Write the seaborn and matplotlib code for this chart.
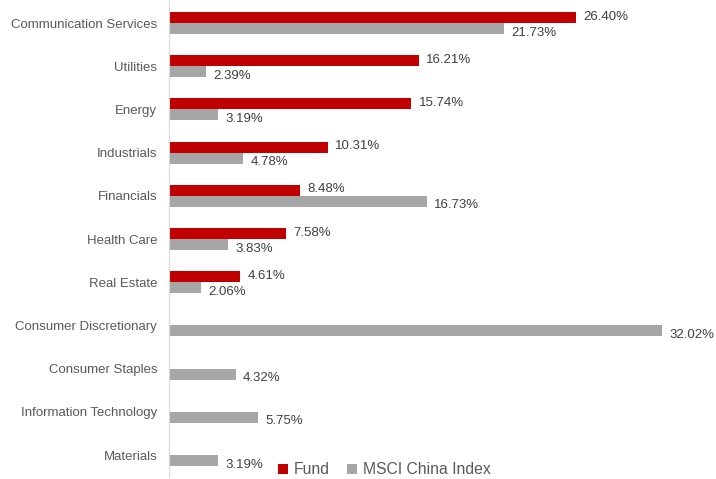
import seaborn as sns
import matplotlib.pyplot as plt
import pandas as pd

# sector weights
sectors = ['Communication Services', 'Utilities', 'Energy', 'Industrials', 'Financials',
           'Health Care', 'Real Estate', 'Consumer Discretionary', 'Consumer Staples',
           'Information Technology', 'Materials']
fund = [26.40, 16.21, 15.74, 10.31, 8.48, 7.58, 4.61, 0, 0, 0, 0]
msci = [21.73, 2.39, 3.19, 4.78, 16.73, 3.83, 2.06, 32.02, 4.32, 5.75, 3.19]
series_names = ['Fund', 'MSCI China Index']

df = pd.DataFrame({
    'sector': sectors * 2,
    'value': fund + msci,
    'series': [series_names[0]] * len(sectors) + [series_names[1]] * len(sectors),
})

sns.set_style('white')
plt.rcParams['font.family'] = ['Liberation Sans', 'DejaVu Sans']

fig = plt.figure(figsize=(7.16, 4.79), dpi=100)
ax = fig.add_axes([0.236, 0.005, 0.753, 0.992])

sns.barplot(data=df, y='sector', x='value', hue='series', orient='h',
            palette=['#C00000', '#A6A6A6'], width=0.51, gap=0, ax=ax,
            saturation=1, edgecolor='none')

ax.set_xlim(0, 35)
ax.set_xlabel('')
ax.set_ylabel('')
ax.set_xticks([])
ax.tick_params(axis='y', length=0, pad=8.5, labelsize=9.5, labelcolor='#595959')
for side in ['top', 'right', 'bottom']:
    ax.spines[side].set_visible(False)
ax.spines['left'].set_color('#D9D9D9')

# value labels at the bar ends
offsets = [0.7, -3]
for cont, dy in zip(ax.containers, offsets):
    for bar in cont:
        w = bar.get_width()
        if w <= 0:
            continue
        ax.annotate(f'{w:.2f}%', (w, bar.get_y() + bar.get_height() / 2),
                    xytext=(5.5, dy), textcoords='offset points',
                    ha='left', va='center', fontsize=9.5, color='#404040',
                    annotation_clip=False)

ax.legend_.remove()
handles, labels = ax.get_legend_handles_labels()
fig.legend(handles, labels, loc='center', bbox_to_anchor=(0.537, 0.019), ncol=2,
           frameon=False, handlelength=0.6, handleheight=0.6, handletextpad=0.4,
           columnspacing=1.1, fontsize=11.3, labelcolor='#595959')

fig.savefig('out.png', dpi=100)
